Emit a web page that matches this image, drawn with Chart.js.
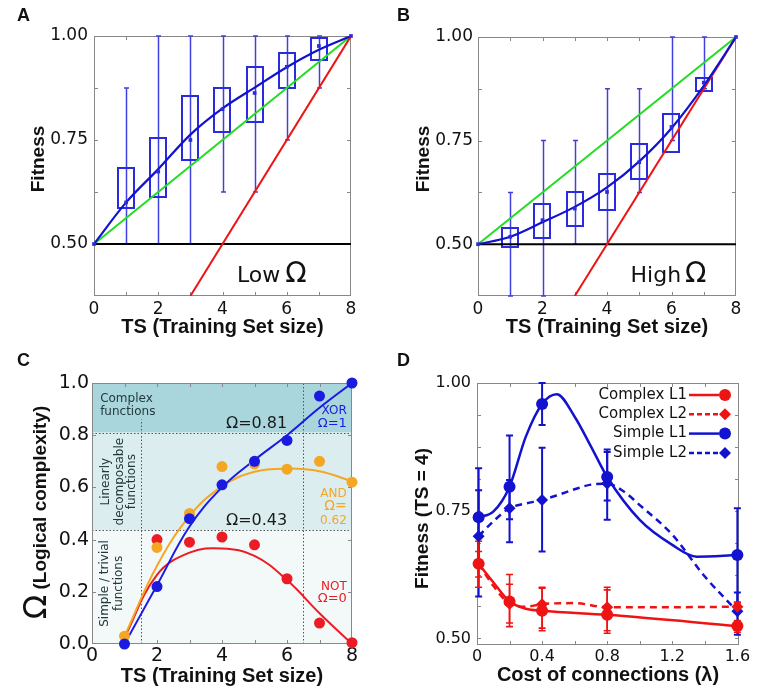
<!DOCTYPE html>
<html><head><meta charset="utf-8">
<script src="https://cdn.jsdelivr.net/npm/chart.js@4.4.1/dist/chart.umd.min.js"></script>
<style>
html,body{margin:0;padding:0;background:#fff;}
#wrap{position:relative;width:757px;height:695px;overflow:hidden;background:#fff;}
.pane{position:absolute;}
.lbl{position:absolute;font:bold 18px 'Liberation Sans',Arial,sans-serif;line-height:18px;color:#111;}
</style></head><body>
<div id="wrap">
  <div class="pane" style="left:0;top:0"><canvas id="cA" width="378" height="345"></canvas></div>
  <div class="pane" style="left:380px;top:0"><canvas id="cB" width="377" height="345"></canvas></div>
  <div class="pane" style="left:0;top:345px"><canvas id="cC" width="378" height="350"></canvas></div>
  <div class="pane" style="left:380px;top:345px"><canvas id="cD" width="377" height="350"></canvas></div>
  <div class="lbl" style="left:17px;top:6px">A</div>
  <div class="lbl" style="left:397px;top:6px">B</div>
  <div class="lbl" style="left:17px;top:351px">C</div>
  <div class="lbl" style="left:397px;top:351px">D</div>
</div>
<script>
// ================= DATA =================
// Panels A & B : fitness vs training-set size (box plots + fitted curve)
const tsBoxes = [1, 2, 3, 4, 5, 6, 7];
const tsAll   = [0, 1, 2, 3, 4, 5, 6, 7, 8];
const lowBoxLo    = [0.586, 0.613, 0.700, 0.770, 0.794, 0.874, 0.942];
const lowBoxHi    = [0.682, 0.756, 0.855, 0.875, 0.926, 0.958, 0.994];
const lowWhiskLo  = [0.500, 0.500, 0.500, 0.625, 0.625, 0.750, 0.875];
const lowWhiskHi  = [0.875, 1.000, 1.000, 1.000, 1.000, 1.000, 1.000];
const lowMedian   = [0.500, 0.600, 0.674, 0.750, 0.824, 0.863, 0.926, 0.976, 1.000];
const lowFit      = [0.500, 0.600, 0.680, 0.763, 0.826, 0.876, 0.925, 0.967, 1.000];

const highBoxLo   = [0.492, 0.516, 0.546, 0.582, 0.658, 0.722, 0.870];
const highBoxHi   = [0.539, 0.598, 0.627, 0.670, 0.742, 0.814, 0.902];
const highWhiskLo = [0.375, 0.375, 0.500, 0.500, 0.625, 0.750, 0.875];
const highWhiskHi = [0.625, 0.750, 0.750, 0.875, 0.875, 1.000, 1.000];
const highMedian  = [0.500, 0.518, 0.558, 0.586, 0.626, 0.698, 0.783, 0.890, 1.000];
const highFit     = [0.500, 0.518, 0.553, 0.590, 0.637, 0.700, 0.780, 0.882, 1.000];

const refLineX   = [0, 8];
const greenLineY = [0.5, 1.0];
const redLineX   = [3, 8];
const redLineY   = [0.375, 1.0];
const chanceY    = [0.5, 0.5];

const tsTicks = [0, 1, 2, 3, 4, 5, 6, 7, 8];
const tsTickLabels = {0: '0', 2: '2', 4: '4', 6: '6', 8: '8'};
const fitTicks = [0.375, 0.5, 0.625, 0.75, 0.875, 1.0];
const fitTickLabels = {'0.5': '0.50', '0.75': '0.75', '1': '1.00'};

// Panel C : logical complexity vs TS
const tsC      = [1, 2, 3, 4, 5, 6, 7, 8];
const tsNot    = [2, 3, 4, 5, 6, 7, 8];
const xorPts   = [0.00, 0.22, 0.48, 0.61, 0.70, 0.78, 0.95, 1.00];
const andPts   = [0.03, 0.37, 0.50, 0.68, 0.69, 0.67, 0.70, 0.62];
const notPts   = [0.40, 0.39, 0.41, 0.38, 0.25, 0.08, 0.005];
const xorFit   = [0.000, 0.225, 0.450, 0.600, 0.705, 0.800, 0.905, 1.000];
const andFit   = [0.030, 0.300, 0.490, 0.604, 0.660, 0.672, 0.662, 0.623];
const notFit   = [0.025, 0.265, 0.350, 0.366, 0.338, 0.245, 0.118, 0.000];
const omegaThresholds = [0.435, 0.81];
const regionBoundsTS = [1.5, 6.5];
const omegaTicks = [0, 0.2, 0.4, 0.6, 0.8, 1.0];

// Panel D : fitness at TS=4 vs cost of connections
const lambdaPts   = [0.01, 0.2, 0.4, 0.8, 1.6];
const complexL1   = [0.646, 0.572, 0.554, 0.546, 0.524];
const complexL1Lo = [0.600, 0.530, 0.515, 0.510, 0.512];
const complexL1Hi = [0.690, 0.625, 0.598, 0.600, 0.535];
const complexL2   = [0.646, 0.568, 0.567, 0.561, 0.562];
const complexL2Lo = [0.620, 0.523, 0.520, 0.515, 0.553];
const complexL2Hi = [0.670, 0.606, 0.600, 0.595, 0.570];
const simpleL1    = [0.737, 0.797, 0.959, 0.816, 0.663];
const simpleL1Lo  = [0.640, 0.733, 0.918, 0.770, 0.570];
const simpleL1Hi  = [0.833, 0.897, 1.000, 0.870, 0.755];
const simpleL2    = [0.700, 0.755, 0.771, 0.803, 0.553];
const simpleL2Lo  = [0.582, 0.688, 0.670, 0.732, 0.507];
const simpleL2Hi  = [0.790, 0.810, 0.873, 0.865, 0.590];
// fitted smooth curves
const simpleL1CurveX  = [0.01, 0.1, 0.2, 0.3, 0.4, 0.49, 0.6, 0.7, 0.8, 1.0, 1.2, 1.35, 1.6];
const simpleL1CurveY  = [0.737, 0.748, 0.797, 0.895, 0.959, 0.978, 0.934, 0.876, 0.816, 0.732, 0.683, 0.660, 0.663];
const simpleL2CurveX  = [0.01, 0.1, 0.2, 0.3, 0.4, 0.5, 0.6, 0.7, 0.8, 0.9, 1.0, 1.2, 1.4, 1.6];
const simpleL2CurveY  = [0.700, 0.729, 0.755, 0.764, 0.771, 0.781, 0.792, 0.801, 0.803, 0.788, 0.761, 0.703, 0.621, 0.553];
const complexL1CurveX = [0.01, 0.1, 0.2, 0.3, 0.4, 0.8, 1.6];
const complexL1CurveY = [0.646, 0.610, 0.572, 0.558, 0.554, 0.546, 0.524];
const complexL2CurveX = [0.01, 0.1, 0.2, 0.3, 0.4, 0.6, 0.8, 1.2, 1.6];
const complexL2CurveY = [0.646, 0.603, 0.568, 0.562, 0.567, 0.569, 0.561, 0.561, 0.562];
const legendLabels = ['Complex L1', 'Complex L2', 'Simple L1', 'Simple L2'];
const lambdaTicks = [0, 0.2, 0.4, 0.6, 0.8, 1.0, 1.2, 1.4, 1.6];
const lambdaTickLabels = {'0': '0', '0.4': '0.4', '0.8': '0.8', '1.2': '1.2', '1.6': '1.6'};
const fitDTicks = [0.5, 0.5625, 0.625, 0.6875, 0.75, 0.8125, 0.875, 0.9375, 1.0];

// ================= HELPERS =================
const TXT = '#111';
const BLUE = '#1212cf', BOXBLUE = '#2a2ade', WHISK = '#4040e0';
const RED = '#ee1414', GREEN = '#22dd22';
const CBLUE = '#1a1ae0', CORANGE = '#f5a623', CRED = '#ec1c24';
const xy = (xs, ys) => xs.map((x, i) => ({x: x, y: ys[i]}));
const lab = (map) => (v) => { for (const k in map) { if (Math.abs(parseFloat(k) - v) < 1e-6) return map[k]; } return ''; };

function xScale(o) { return {
  type: 'linear', position: 'bottom', min: o.min, max: o.max,
  afterBuildTicks: s => { s.ticks = o.ticks.map(v => ({value: v})); },
  afterFit: s => { s.height = o.height; },
  grid: {display: false, drawTicks: false}, border: {display: false},
  ticks: {font: {family: 'DejaVu Sans', size: o.fs}, color: TXT, padding: o.pad, maxRotation: 0, minRotation: 0, autoSkip: false, callback: o.fmt},
  title: {display: true, text: o.title, color: TXT, font: {family: 'Liberation Sans', size: 20, weight: 'bold', lineHeight: 1.2}, padding: {top: 0, bottom: o.tpad}}
};}
function yScale(o) { return {
  type: 'linear', position: 'left', min: o.min, max: o.max,
  afterBuildTicks: s => { s.ticks = o.ticks.map(v => ({value: v})); },
  afterFit: s => { s.width = o.width; },
  grid: {display: false, drawTicks: false}, border: {display: false},
  ticks: {font: {family: 'DejaVu Sans', size: o.fs}, color: TXT, padding: o.pad, autoSkip: false, callback: o.fmt},
  title: {display: false}
};}

const shadePlugin = {
  id: 'shade',
  beforeDraw(chart, args, o) {
    if (!o || !o.bands) return;
    const {ctx, chartArea: a, scales: {x, y}} = chart;
    ctx.save();
    for (const b of o.bands) {
      const y1 = y.getPixelForValue(b.hi), y2 = y.getPixelForValue(b.lo);
      ctx.fillStyle = b.color; ctx.fillRect(a.left, y1, a.width, y2 - y1);
    }
    ctx.strokeStyle = '#555'; ctx.lineWidth = 1; ctx.setLineDash([1.5, 2]);
    ctx.beginPath();
    for (const h of o.hlines) { const p = Math.round(y.getPixelForValue(h)) + 0.5; ctx.moveTo(a.left, p); ctx.lineTo(a.right, p); }
    for (const v of o.vlines) { const p = Math.round(x.getPixelForValue(v.x)) + 0.5; ctx.moveTo(p, y.getPixelForValue(0)); ctx.lineTo(p, y.getPixelForValue(v.top)); }
    ctx.stroke();
    ctx.restore();
  }
};
const framePlugin = {
  id: 'frame',
  beforeDatasetsDraw(chart, args, o) {
    const {ctx, chartArea: a, scales: {x, y}} = chart;
    ctx.save(); ctx.strokeStyle = o.color || '#8a8a8a'; ctx.lineWidth = 1;
    const L = o.len || 5;
    ctx.beginPath();
    for (const t of x.ticks) { const p = Math.round(x.getPixelForValue(t.value)) + 0.5; if (p < a.left + 2 || p > a.right - 2) continue; ctx.moveTo(p, a.top); ctx.lineTo(p, a.top + L); ctx.moveTo(p, a.bottom); ctx.lineTo(p, a.bottom - L); }
    for (const t of y.ticks) { const p = Math.round(y.getPixelForValue(t.value)) + 0.5; if (p < a.top + 2 || p > a.bottom - 2) continue; ctx.moveTo(a.left, p); ctx.lineTo(a.left + L, p); ctx.moveTo(a.right, p); ctx.lineTo(a.right - L, p); }
    ctx.stroke();
    ctx.strokeRect(Math.round(a.left) + 0.5, Math.round(a.top) + 0.5, Math.round(a.right) - Math.round(a.left) - 1, Math.round(a.bottom) - Math.round(a.top) - 1);
    ctx.restore();
  }
};
const boxPlugin = {
  id: 'boxes',
  beforeDatasetsDraw(chart, args, o) {
    if (!o || !o.x) return;
    const {ctx, scales: {x, y}} = chart;
    ctx.save();
    ctx.strokeStyle = WHISK; ctx.lineWidth = 1.5;
    o.x.forEach((xv, i) => {
      const px = Math.round(x.getPixelForValue(xv)) + 0.5;
      const y1 = y.getPixelForValue(o.wlo[i]), y2 = y.getPixelForValue(o.whi[i]);
      ctx.beginPath(); ctx.moveTo(px, y1); ctx.lineTo(px, y2);
      ctx.moveTo(px - 2.5, y1); ctx.lineTo(px + 2.5, y1); ctx.moveTo(px - 2.5, y2); ctx.lineTo(px + 2.5, y2);
      ctx.stroke();
    });
    ctx.strokeStyle = BOXBLUE; ctx.lineWidth = 2;
    o.x.forEach((xv, i) => {
      const px = x.getPixelForValue(xv);
      const hw = x.getPixelForValue(xv + 0.25) - px;
      const y1 = y.getPixelForValue(o.lo[i]), y2 = y.getPixelForValue(o.hi[i]);
      ctx.strokeRect(Math.round(px - hw), Math.round(y2), Math.round(2 * hw), Math.round(y1 - y2));
    });
    ctx.restore();
  }
};
const errPlugin = {
  id: 'errs',
  beforeDatasetsDraw(chart, args, o) {
    if (!o || !o.series) return;
    const {ctx, scales: {x, y}} = chart;
    ctx.save();
    for (const s of o.series) {
      ctx.strokeStyle = s.color; ctx.lineWidth = s.width;
      s.x.forEach((xv, i) => {
        const px = x.getPixelForValue(xv);
        const y1 = y.getPixelForValue(s.lo[i]), y2 = y.getPixelForValue(s.hi[i]);
        ctx.beginPath(); ctx.moveTo(px, y1); ctx.lineTo(px, y2);
        ctx.moveTo(px - 3.5, y1); ctx.lineTo(px + 3.5, y1); ctx.moveTo(px - 3.5, y2); ctx.lineTo(px + 3.5, y2);
        ctx.stroke();
      });
    }
    ctx.restore();
  }
};
function drawNotes(chart, items) {
  const {ctx, scales: {x, y}} = chart;
  for (const it of items) {
    ctx.save();
    ctx.font = it.font; ctx.fillStyle = it.color || TXT;
    ctx.textAlign = it.align || 'left'; ctx.textBaseline = it.baseline || 'middle';
    ctx.translate(x.getPixelForValue(it.x), y.getPixelForValue(it.y));
    if (it.rot) ctx.rotate(it.rot);
    ctx.fillText(it.text, 0, 0);
    ctx.restore();
  }
}
const notesPlugin = {
  id: 'notes',
  beforeDatasetsDraw(chart, args, o) { if (o && o.under) drawNotes(chart, o.under); },
  afterDatasetsDraw(chart, args, o) { if (o && o.over) drawNotes(chart, o.over); }
};
const ytitlePlugin = {
  id: 'ytitle',
  afterDraw(chart, args, o) {
    const ctx = chart.ctx; ctx.save();
    ctx.fillStyle = TXT; ctx.textBaseline = 'alphabetic'; ctx.textAlign = 'left';
    let total = 0;
    const ws = o.parts.map(p => { ctx.font = p.font; const w = ctx.measureText(p.text).width; total += w; return w; });
    ctx.translate(o.x, o.y); ctx.rotate(-Math.PI / 2);
    let cx = -total / 2;
    o.parts.forEach((p, i) => { ctx.font = p.font; ctx.fillText(p.text, cx, 0); cx += ws[i]; });
    ctx.restore();
  }
};
const legendPlugin = {
  id: 'dlegend',
  afterDatasetsDraw(chart, args, o) {
    if (!o || !o.items) return;
    const {ctx, chartArea: a} = chart;
    ctx.save();
    o.items.forEach((it, i) => {
      const yy = a.top + 12 + i * 19.3;
      ctx.font = '15px "DejaVu Sans"'; ctx.fillStyle = TXT; ctx.textAlign = 'right'; ctx.textBaseline = 'middle';
      ctx.fillText(it.label, a.right - 52, yy);
      ctx.strokeStyle = it.color; ctx.lineWidth = 2.5; ctx.setLineDash(it.dash ? [5, 3] : []);
      ctx.beginPath(); ctx.moveTo(a.right - 50, yy); ctx.lineTo(a.right - 20, yy); ctx.stroke();
      ctx.setLineDash([]);
      ctx.fillStyle = it.color; ctx.beginPath();
      const mx = a.right - 14;
      if (it.diamond) { ctx.moveTo(mx, yy - 6); ctx.lineTo(mx + 6, yy); ctx.lineTo(mx, yy + 6); ctx.lineTo(mx - 6, yy); ctx.closePath(); }
      else ctx.arc(mx, yy, 6, 0, Math.PI * 2);
      ctx.fill();
    });
    ctx.restore();
  }
};

const BASE = {responsive: false, animation: false, devicePixelRatio: 1, events: []};
function lineDS(data, color, width, extra) {
  return Object.assign({type: 'scatter', data: data, showLine: true, borderColor: color, backgroundColor: color, borderWidth: width, pointRadius: 0, fill: false}, extra || {});
}
function ptDS(data, color, r, style, extra) {
  return Object.assign({type: 'scatter', data: data, showLine: false, backgroundColor: color, borderColor: color, borderWidth: 0, pointRadius: r, pointStyle: style || 'circle', clip: false}, extra || {});
}

// ================= PANELS A & B =================
function fitnessPanel(id, cfg) {
  new Chart(document.getElementById(id), {
    type: 'scatter',
    data: {datasets: [
      ptDS(xy(tsAll, cfg.median), BOXBLUE, 2.6, 'rect'),
      lineDS(xy(tsAll, cfg.fit), BLUE, 2.2, {cubicInterpolationMode: 'monotone'}),
      lineDS(xy(redLineX, redLineY), RED, 2),
      lineDS(xy(refLineX, greenLineY), GREEN, 2),
      lineDS(xy(refLineX, chanceY), '#000', 2)
    ]},
    options: Object.assign({}, BASE, {
      layout: {padding: cfg.padding},
      scales: {
        x: xScale({min: 0, max: 8, ticks: tsTicks, fmt: lab(tsTickLabels), height: 49, fs: 17, pad: 3.8, title: 'TS (Training Set size)', tpad: 6.0}),
        y: yScale({min: 0.375, max: 1.0, ticks: fitTicks, fmt: lab(fitTickLabels), width: cfg.yw, fs: 17, pad: cfg.ypad})
      },
      plugins: {
        legend: {display: false}, tooltip: {enabled: false},
        frame: {color: '#888', len: 4},
        boxes: {x: tsBoxes, lo: cfg.boxLo, hi: cfg.boxHi, wlo: cfg.wLo, whi: cfg.wHi},
        notes: {under: cfg.notes},
        ytitle: {x: cfg.titleX, y: 159, parts: [{text: 'Fitness', font: 'bold 19px "Liberation Sans"'}]}
      }
    }),
    plugins: [framePlugin, boxPlugin, notesPlugin, ytitlePlugin]
  });
}
fitnessPanel('cA', {
  median: lowMedian, fit: lowFit, boxLo: lowBoxLo, boxHi: lowBoxHi, wLo: lowWhiskLo, wHi: lowWhiskHi,
  padding: {left: 0, top: 36, right: 27, bottom: 0}, yw: 94, ypad: 6, titleX: 43.6,
  notes: [
    {text: 'Low', x: 4.45, y: 0.409, font: '22px "DejaVu Sans"', baseline: 'alphabetic'},
    {text: 'Ω', x: 5.95, y: 0.409, font: '28px "DejaVu Sans"', baseline: 'alphabetic'}
  ]
});
fitnessPanel('cB', {
  median: highMedian, fit: highFit, boxLo: highBoxLo, boxHi: highBoxHi, wLo: highWhiskLo, wHi: highWhiskHi,
  padding: {left: 0, top: 37, right: 21, bottom: 0}, yw: 98, ypad: 5, titleX: 48.6,
  notes: [
    {text: 'High', x: 4.73, y: 0.409, font: '22px "DejaVu Sans"', baseline: 'alphabetic'},
    {text: 'Ω', x: 6.42, y: 0.409, font: '28px "DejaVu Sans"', baseline: 'alphabetic'}
  ]
});

// ================= PANEL C =================
const F12 = '12px "DejaVu Sans"';
new Chart(document.getElementById('cC'), {
  type: 'scatter',
  data: {datasets: [
    ptDS(xy(tsC, xorPts), CBLUE, 5.5),
    ptDS(xy(tsC, andPts), CORANGE, 5.5),
    ptDS(xy(tsNot, notPts), CRED, 5.5),
    lineDS(xy(tsC, xorFit), CBLUE, 2, {tension: 0.4}),
    lineDS(xy(tsC, andFit), CORANGE, 2, {tension: 0.4}),
    lineDS(xy(tsC, notFit), CRED, 2, {tension: 0.4})
  ]},
  options: Object.assign({}, BASE, {
    layout: {padding: {left: 0, top: 38, right: 26, bottom: 0}},
    scales: {
      x: xScale({min: 0, max: 8, ticks: tsTicks, fmt: lab(tsTickLabels), height: 51, fs: 19, pad: 0.5, title: 'TS (Training Set size)', tpad: 6.3}),
      y: yScale({min: 0, max: 1, ticks: omegaTicks, fmt: v => v.toFixed(1), width: 92, fs: 19, pad: 3})
    },
    plugins: {
      legend: {display: false}, tooltip: {enabled: false},
      shade: {
        bands: [
          {lo: omegaThresholds[1], hi: 1.0, color: '#a9d6dc'},
          {lo: omegaThresholds[0], hi: omegaThresholds[1], color: '#dcedef'},
          {lo: 0, hi: omegaThresholds[0], color: '#f3f8f9'}
        ],
        hlines: omegaThresholds,
        vlines: [{x: regionBoundsTS[0], top: 0.86}, {x: regionBoundsTS[1], top: 1.0}]
      },
      frame: {color: '#888', len: 4},
      notes: {under: [
        {text: 'Complex', x: 0.25, y: 0.940, font: F12, color: '#233a3d'},
        {text: 'functions', x: 0.25, y: 0.890, font: F12, color: '#233a3d'},
        {text: 'Ω=0.81', x: 4.12, y: 0.845, font: '16px "DejaVu Sans"', color: '#1a1a1a'},
        {text: 'Ω=0.43', x: 4.12, y: 0.470, font: '16px "DejaVu Sans"', color: '#1a1a1a'},
        {text: 'XOR', x: 7.84, y: 0.894, font: F12, color: CBLUE, align: 'right'},
        {text: 'Ω=1', x: 7.84, y: 0.845, font: '13px "DejaVu Sans"', color: CBLUE, align: 'right'},
        {text: 'AND', x: 7.84, y: 0.574, font: F12, color: CORANGE, align: 'right'},
        {text: 'Ω=', x: 7.84, y: 0.526, font: '14px "DejaVu Sans"', color: CORANGE, align: 'right'},
        {text: '0.62', x: 7.84, y: 0.472, font: F12, color: CORANGE, align: 'right'},
        {text: 'NOT', x: 7.84, y: 0.217, font: F12, color: CRED, align: 'right'},
        {text: 'Ω=0', x: 7.84, y: 0.173, font: '13px "DejaVu Sans"', color: CRED, align: 'right'},
        {text: 'Linearly', x: 0.42, y: 0.622, font: F12, color: '#233a3d', align: 'center', rot: -Math.PI / 2},
        {text: 'decomposable', x: 0.85, y: 0.622, font: F12, color: '#233a3d', align: 'center', rot: -Math.PI / 2},
        {text: 'functions', x: 1.23, y: 0.622, font: F12, color: '#233a3d', align: 'center', rot: -Math.PI / 2},
        {text: 'Simple / trivial', x: 0.39, y: 0.232, font: F12, color: '#233a3d', align: 'center', rot: -Math.PI / 2},
        {text: 'functions', x: 0.82, y: 0.232, font: F12, color: '#233a3d', align: 'center', rot: -Math.PI / 2}
      ]},
      ytitle: {x: 45.6, y: 167.5, parts: [{text: 'Ω', font: '32px "DejaVu Sans"'}, {text: ' (Logical complexity)', font: 'bold 19px "Liberation Sans"'}]}
    }
  }),
  plugins: [shadePlugin, framePlugin, notesPlugin, ytitlePlugin]
});

// ================= PANEL D =================
new Chart(document.getElementById('cD'), {
  type: 'scatter',
  data: {datasets: [
    ptDS(xy(lambdaPts, complexL1), RED, 6, 'circle'),
    ptDS(xy(lambdaPts, complexL2), RED, 6, 'rectRot'),
    lineDS(xy(complexL1CurveX, complexL1CurveY), RED, 2.5, {cubicInterpolationMode: 'monotone'}),
    lineDS(xy(complexL2CurveX, complexL2CurveY), RED, 2.5, {cubicInterpolationMode: 'monotone', borderDash: [7, 5]}),
    ptDS(xy(lambdaPts, simpleL1), BLUE, 6, 'circle'),
    ptDS(xy(lambdaPts, simpleL2), BLUE, 6, 'rectRot'),
    lineDS(xy(simpleL1CurveX, simpleL1CurveY), BLUE, 2.5, {cubicInterpolationMode: 'monotone'}),
    lineDS(xy(simpleL2CurveX, simpleL2CurveY), BLUE, 2.5, {cubicInterpolationMode: 'monotone', borderDash: [7, 5]})
  ]},
  options: Object.assign({}, BASE, {
    layout: {padding: {left: 0, top: 38, right: 18, bottom: 0}},
    scales: {
      x: xScale({min: 0, max: 1.61, ticks: lambdaTicks, fmt: lab(lambdaTickLabels), height: 50, fs: 16, pad: 2.1, title: 'Cost of connections (λ)', tpad: 7.5}),
      y: yScale({min: 0.487, max: 1.0, ticks: fitDTicks, fmt: lab(fitTickLabels), width: 97, fs: 16, pad: 6})
    },
    plugins: {
      legend: {display: false}, tooltip: {enabled: false},
      frame: {color: '#888', len: 4},
      errs: {series: [
        {x: lambdaPts, lo: simpleL2Lo, hi: simpleL2Hi, color: BLUE, width: 2},
        {x: lambdaPts, lo: simpleL1Lo, hi: simpleL1Hi, color: BLUE, width: 2},
        {x: lambdaPts, lo: complexL2Lo, hi: complexL2Hi, color: RED, width: 1.6},
        {x: lambdaPts, lo: complexL1Lo, hi: complexL1Hi, color: RED, width: 1.6}
      ]},
      dlegend: {items: [
        {label: legendLabels[0], color: RED, dash: false, diamond: false},
        {label: legendLabels[1], color: RED, dash: true, diamond: true},
        {label: legendLabels[2], color: BLUE, dash: false, diamond: false},
        {label: legendLabels[3], color: BLUE, dash: true, diamond: true}
      ]},
      ytitle: {x: 47.5, y: 173.5, parts: [{text: 'Fitness (TS = 4)', font: 'bold 19px "Liberation Sans"'}]}
    }
  }),
  plugins: [framePlugin, errPlugin, legendPlugin, ytitlePlugin]
});
</script>
</body></html>
